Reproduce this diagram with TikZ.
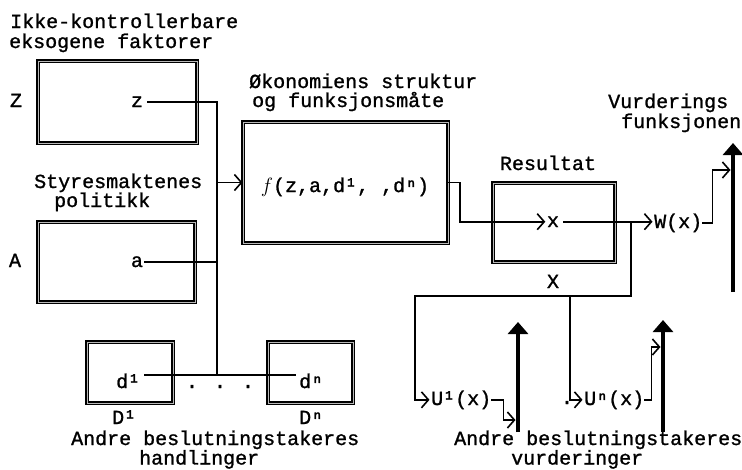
\documentclass[tikz,border=0pt]{standalone}
\usepackage{fontspec}
\usetikzlibrary{arrows.meta,calc}
\newfontfamily\tw{Liberation Mono}[FakeBold=1.2]
\begin{document}
\begin{tikzpicture}[x=1pt,y=-1pt,
  tx/.style={font=\tw\fontsize{20}{20}\selectfont, inner sep=0pt, anchor=base west},
  box/.style={draw=black, double=gray!55, double distance=0.8pt, line width=1.3pt, inner sep=0pt, outer sep=0pt},
  conn/.style={line width=1.6pt, line cap=rect},
  arr/.style={-{Straight Barb[length=7pt,width=16pt]}, shorten >=0.5pt},
  big/.style={line width=4pt, -{Triangle[length=12pt,width=20pt]}}]
\useasboundingbox (0,0) rectangle (742,469);

% boxes
\node[box, minimum width=159pt, minimum height=82pt] (bz) at (117.5,102) {};
\node[box, minimum width=157pt, minimum height=80pt] (ba) at (116.5,262) {};
\node[box, minimum width=205pt, minimum height=121pt] (bf) at (345.5,182.5) {};
\node[box, minimum width=86pt, minimum height=61pt] (bd1) at (130,372.5) {};
\node[box, minimum width=85pt, minimum height=61pt] (bdn) at (310.5,372.5) {};
\node[box, minimum width=122pt, minimum height=79pt] (br) at (554,222.5) {};

% texts
\node[tx] (t1) at (10,28) {Ikke-kontrollerbare};
\node[tx] (t2) at (9,48) {eksogene faktorer};
\node[tx,anchor=base] (Zl) at (16,107) {Z};
\node[tx,anchor=base] (zt) at (137,107) {z};
\node[tx] (s1) at (34,188) {Styresmaktenes};
\node[tx] (s2) at (54,207) {politikk};
\node[tx,anchor=base] (Al) at (15,267) {A};
\node[tx,anchor=base] (av) at (137,267) {a};
\node[tx] (o1) at (249,88) {Økonomiens struktur};
\node[tx] (o2) at (252,107) {og funksjonsmåte};
\node[tx,anchor=base] (ft) at (345,192) {$f$(z,a,d¹, ,dⁿ)};
\node[tx,anchor=base] (rt) at (548,170) {Resultat};
\node[tx,anchor=base] (xt) at (553,227) {x};
\node[tx] (wt) at (654,228) {W(x)};
\node[tx] (v1) at (608,108) {Vurderings};
\node[tx] (v2) at (621,128) {funksjonen};
\node[tx,anchor=base] (Xl) at (553,288) {X};
\node[tx] (d1t) at (116,388) {d¹};
\node[tx] (dnt) at (299,388) {dⁿ};
\node[tx,anchor=base] (dots) at (220,388) {. . .};
\node[tx] (D1) at (112,424) {D¹};
\node[tx] (Dn) at (299,424) {Dⁿ};
\node[tx] (h1) at (71,445) {Andre beslutningstakeres};
\node[tx] (h2) at (139,464.5) {handlinger};
\node[tx] (u1t) at (431,405) {U¹(x)};
\node[tx,anchor=base] (dot2) at (567,404) {.};
\node[tx] (unt) at (584,405) {Uⁿ(x)};
\node[tx] (r1) at (454,445) {Andre beslutningstakeres};
\node[tx] (r2) at (511,464.5) {vurderinger};

% coordinates
\coordinate (bus) at (217,375);
\coordinate (brx) at (631,296);
\coordinate (lc) at (415,296);
\coordinate (mc) at (570,296);
\coordinate (T1b) at (518,432); \coordinate (T1t) at (518,322);
\coordinate (T2b) at (663,432); \coordinate (T2t) at (663,320);
\coordinate (T3b) at (733,292); \coordinate (T3t) at (733,143);

% connectors left
\draw[conn] ($(zt.east)+(5,0)$) -- (zt.east -| bus) -- (bus);
\draw[conn] ($(av.east)+(2,0)$) -- (av.east -| bus);
\draw[conn,arr] (bf.west -| bus) -- (bf.west);
\draw[conn] ($(d1t.east |- bus)+(4,0)$) -- ($(dnt.west |- bus)+(-4,0)$);

% connectors right
\draw[conn,arr] (bf.east) -- ++(12,0) |- ($(xt.west)+(-1,0)$);
\draw[conn,arr] ($(xt.east)+(5,0)$) -- ($(xt.east -| wt.west)+(-1,0)$);
\draw[conn] (xt.east -| brx) -- (brx) -- (lc);
\draw[conn,arr] (lc) |- ($(u1t.west)+(-1,0)$);
\draw[conn,arr] (mc) |- ($(unt.west)+(-1,0)$);

% thick arrows
\draw[big] (T1b) -- (T1t);
\draw[big] (T2b) -- (T2t);
\draw[big] (T3b) -- (T3t);

\draw[conn,arr] (u1t.east) -- ++(12,0) |- ($(T1b)+(-2,-12)$);
\draw[conn,arr] (unt.east) -- ++(7,0) |- ($(T2b)+(-2,-85)$);
\draw[conn,arr] (wt.east) -- ++(10,0) |- ($(T3t)+(-2,27)$);
\end{tikzpicture}
\end{document}
